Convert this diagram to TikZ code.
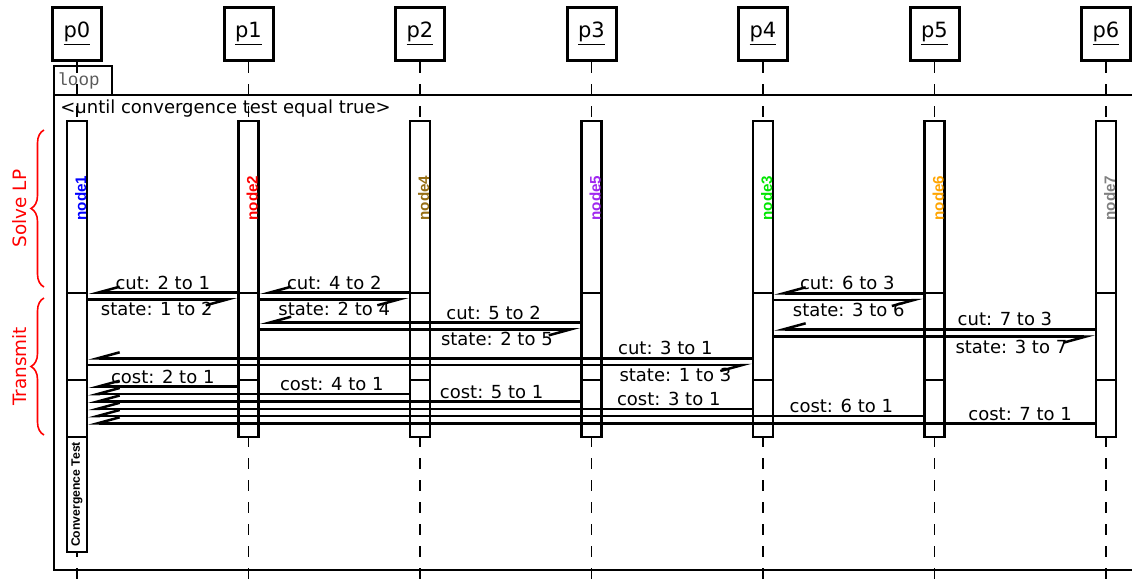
\documentclass[tikz,border=0pt]{standalone}
\usepackage{fontspec}
\setmainfont{DejaVu Sans}
\newfontfamily\labelfont{Liberation Sans}
\newfontfamily\loopfont{Liberation Mono}
\usepackage{xcolor}
\usepackage{tikz}
\usetikzlibrary{arrows.meta, positioning, calc, decorations.pathreplacing}

\definecolor{nodefour}{RGB}{150,110,20}
\definecolor{nodefive}{RGB}{160,40,240}
\definecolor{nodethree}{RGB}{0,230,0}
\definecolor{nodesix}{RGB}{255,165,0}

\begin{document}
\begin{tikzpicture}[x=0.5pt, y=-0.5pt,
    font=\fontsize{9}{11}\selectfont,
    head/.style={draw, line width=1.5pt, minimum width=24.5pt, minimum height=26.5pt, inner sep=0pt,
                 font=\fontsize{10.5}{12}\selectfont},
    life/.style={line width=0.9pt, dash pattern=on 5.5pt off 5.5pt},
    act/.style={draw, fill=white, line width=1.35pt, minimum width=10pt, inner sep=0pt},
    msg/.style={line width=1.25pt, -{Straight Barb[right, length=11pt, width=6pt]}},
    lbl/.style={inner sep=1pt},
    frame/.style={line width=1.35pt},
    procname/.style={rotate=90, anchor=base, font=\labelfont\bfseries\fontsize{7.6}{9}\selectfont},
    phase/.style={draw=red, line width=0.8pt, decorate, decoration={brace, amplitude=6.5pt}},
    phasename/.style={rotate=90, text=red, font=\fontsize{9.2}{11}\selectfont}]
\useasboundingbox (0,0) rectangle (1132,585);

% processes and lifelines
\foreach \i in {0,...,6} {
  \pgfmathsetmacro{\xx}{77+171.5*\i}
  \node[head] (p\i) at (\xx,34) {\underline{p\i}};
  \draw[life] (p\i.south) -- (\xx,585);
}

% loop frame
\draw[frame] (54,66) rectangle (112,95);
\draw[frame] (54,95) -- (54,570) -- (1132,570);
\draw[frame] (54,95) -- (1132,95);
\node[anchor=west, inner sep=0pt, text=black!65, font=\loopfont\fontsize{8.8}{10}\selectfont] (looptag) at (57,81) {loop};
\node[anchor=west, inner sep=0pt] (guard) at (60,108.5) {<until convergence test equal true>};

% activations
\foreach \i/\pn/\pc in {0/node1/blue, 1/node2/red, 2/node4/nodefour, 3/node5/nodefive,
                        4/node3/nodethree, 5/node6/nodesix, 6/node7/gray} {
  \pgfmathsetmacro{\xx}{77+171.5*\i}
  \node[act, minimum height=86pt] (s\i) at (\xx,207) {};
  \node[act, minimum height=43.5pt] (t\i) at (\xx,336.5) {};
  \node[act, minimum height=28.5pt] (c\i) at (\xx,408.5) {};
  \node[procname, text=\pc] (n\i) at (\xx+9,198) {\pn};
}
\node[act, rotate=90, minimum width=57.5pt, minimum height=10pt,
      font=\labelfont\bfseries\fontsize{6.1}{7}\selectfont] (conv) at (77,494.5) {Convergence Test};

% phases
\draw[phase] (44,287) -- (44,130);
\node[phasename] (solve) at (20,208.5) {Solve LP};
\draw[phase] (44,435) -- (44,298);
\node[phasename] (trans) at (20,366.5) {Transmit};

% cuts and states
\draw[msg] (t1.west |- 0,292.7) -- (t0.east |- 0,292.7) node[lbl, midway, above] {cut: 2 to 1};
\draw[msg] (t0.east |- 0,299.3) -- (t1.west |- 0,299.3) node[lbl, pos=0.46, below] {state: 1 to 2};
\draw[msg] (t2.west |- 0,292.7) -- (t1.east |- 0,292.7) node[lbl, midway, above] {cut: 4 to 2};
\draw[msg] (t1.east |- 0,299.3) -- (t2.west |- 0,299.3) node[lbl, midway, below] {state: 2 to 4};
\draw[msg] (t3.west |- 0,322.7) -- (t1.east |- 0,322.7) node[lbl, pos=0.27, above] {cut: 5 to 2};
\draw[msg] (t1.east |- 0,329.3) -- (t3.west |- 0,329.3) node[lbl, pos=0.74, below] {state: 2 to 5};
\draw[msg] (t4.west |- 0,358.3) -- (t0.east |- 0,358.3) node[lbl, pos=0.13, above] {cut: 3 to 1};
\draw[msg] (t0.east |- 0,365) -- (t4.west |- 0,365) node[lbl, pos=0.885, below] {state: 1 to 3};
\draw[msg] (t5.west |- 0,293.3) -- (t4.east |- 0,293.3) node[lbl, pos=0.51, above] {cut: 6 to 3};
\draw[msg] (t4.east |- 0,300) -- (t5.west |- 0,300) node[lbl, pos=0.5, below] {state: 3 to 6};
\draw[msg] (t6.west |- 0,329.3) -- (t4.east |- 0,329.3) node[lbl, pos=0.28, above] {cut: 7 to 3};
\draw[msg] (t4.east |- 0,336.7) -- (t6.west |- 0,336.7) node[lbl, pos=0.74, below] {state: 3 to 7};

% costs
\draw[msg] (c1.west |- 0,386.7) -- (c0.east |- 0,386.7) node[lbl, midway, above] {cost: 2 to 1};
\draw[msg] (c2.west |- 0,394) -- (c0.east |- 0,394) node[lbl, pos=0.24, above] {cost: 4 to 1};
\draw[msg] (c3.west |- 0,401.5) -- (c0.east |- 0,401.5) node[lbl, pos=0.18, above] {cost: 5 to 1};
\draw[msg] (c4.west |- 0,408.8) -- (c0.east |- 0,408.8) node[lbl, pos=0.125, above] {cost: 3 to 1};
\draw[msg] (c5.west |- 0,416) -- (c0.east |- 0,416) node[lbl, pos=0.098, above] {cost: 6 to 1};
\draw[msg] (c6.west |- 0,423.3) -- (c0.east |- 0,423.3) node[lbl, pos=0.074, above, inner sep=0.5pt] {cost: 7 to 1};
\end{tikzpicture}
\end{document}
